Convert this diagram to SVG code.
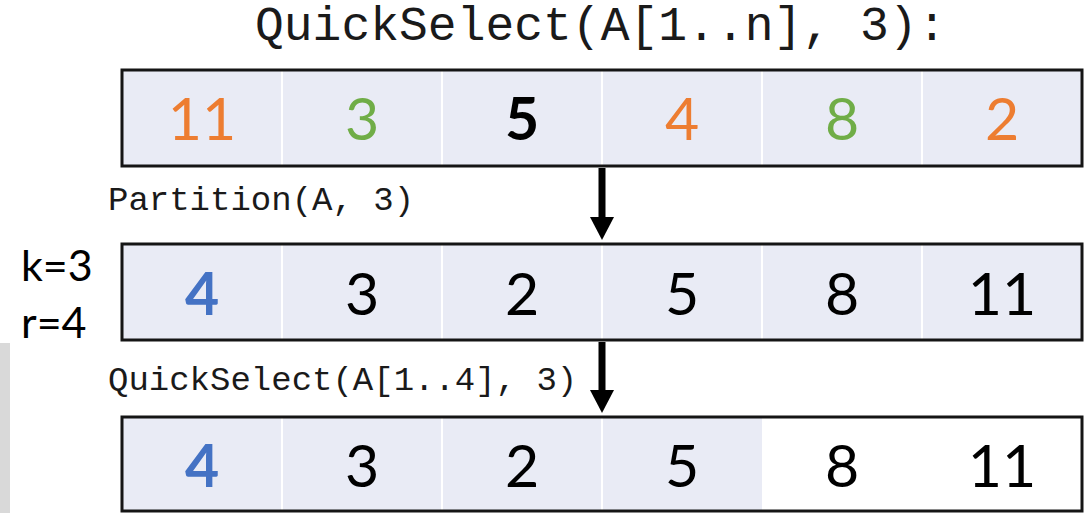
<svg xmlns="http://www.w3.org/2000/svg" width="1092" height="513" viewBox="0 0 1092 513">
  <style>
    .mono { font-family: "Liberation Mono", "DejaVu Sans Mono", monospace; fill: #1a1a1a; }
    .num { font-family: Lato, "Noto Sans", sans-serif; font-size: 59px; text-anchor: middle; fill: #000; }
    .side { font-family: Lato, "Noto Sans", sans-serif; font-size: 43px; fill: #000; }
    .b { font-weight: bold; }
    .org { fill: #ED7D31; }
    .grn { fill: #70AD47; }
    .blu { fill: #4472C4; }
    .cell { fill: #E9EBF5; }
    .div { stroke: #ffffff; stroke-width: 2; }
    .frame { fill: none; stroke: #151515; stroke-width: 3; }
    .arrow { stroke: #000; stroke-width: 7; fill: none; }
  </style>
  <defs>
    <marker id="head" markerUnits="userSpaceOnUse" markerWidth="24" markerHeight="24" viewBox="0 0 24 24" refX="1" refY="12" orient="auto">
      <path d="M0,0 L23,12 L0,24 Z" fill="#000"/>
    </marker>
  </defs>
  <rect width="1092" height="513" fill="#ffffff"/>
  <rect id="sidebar" x="0" y="343" width="10" height="170" fill="#D9D9D9"/>

  <text id="title" class="mono" x="255" y="40" font-size="48">QuickSelect(A[1..n], 3):</text>

  <g id="array1">
    <rect class="cell" x="122" y="70" width="960" height="96"/>
    <line class="div" x1="282" y1="71" x2="282" y2="165"/>
    <line class="div" x1="442" y1="71" x2="442" y2="165"/>
    <line class="div" x1="602" y1="71" x2="602" y2="165"/>
    <line class="div" x1="762" y1="71" x2="762" y2="165"/>
    <line class="div" x1="922" y1="71" x2="922" y2="165"/>
    <rect class="frame" x="122" y="70" width="960" height="96"/>
    <text class="num org" x="202" y="140">11</text>
    <text class="num grn" x="362" y="140">3</text>
    <text class="num b" x="522" y="140">5</text>
    <text class="num org" x="682" y="140">4</text>
    <text class="num grn" x="842" y="140">8</text>
    <text class="num org" x="1002" y="140">2</text>
  </g>

  <text id="label-partition" class="mono" x="108" y="210" font-size="34">Partition(A, 3)</text>

  <g id="labels-kr">
    <text class="side" x="21" y="281">k=3</text>
    <text class="side" x="21" y="338">r=4</text>
  </g>

  <g id="array2">
    <rect class="cell" x="122" y="244" width="960" height="96"/>
    <line class="div" x1="282" y1="245" x2="282" y2="339"/>
    <line class="div" x1="442" y1="245" x2="442" y2="339"/>
    <line class="div" x1="602" y1="245" x2="602" y2="339"/>
    <line class="div" x1="762" y1="245" x2="762" y2="339"/>
    <line class="div" x1="922" y1="245" x2="922" y2="339"/>
    <rect class="frame" x="122" y="244" width="960" height="96"/>
    <text class="num b blu" x="202" y="315">4</text>
    <text class="num" x="362" y="315">3</text>
    <text class="num" x="522" y="315">2</text>
    <text class="num" x="682" y="315">5</text>
    <text class="num" x="842" y="315">8</text>
    <text class="num" x="1002" y="315">11</text>
  </g>

  <text id="label-recurse" class="mono" x="108" y="390" font-size="34">QuickSelect(A[1..4], 3)</text>

  <g id="array3">
    <rect class="cell" x="122" y="417" width="640" height="94"/>
    <line class="div" x1="282" y1="418" x2="282" y2="510"/>
    <line class="div" x1="442" y1="418" x2="442" y2="510"/>
    <line class="div" x1="602" y1="418" x2="602" y2="510"/>
    <rect class="frame" x="122" y="417" width="960" height="94"/>
    <text class="num b blu" x="202" y="487">4</text>
    <text class="num" x="362" y="487">3</text>
    <text class="num" x="522" y="487">2</text>
    <text class="num" x="682" y="487">5</text>
    <text class="num" x="842" y="487">8</text>
    <text class="num" x="1002" y="487">11</text>
  </g>

  <g id="connectors">
    <line class="arrow" x1="602" y1="168" x2="602" y2="218" marker-end="url(#head)"/>
    <line class="arrow" x1="602" y1="342" x2="602" y2="391" marker-end="url(#head)"/>
  </g>
</svg>
